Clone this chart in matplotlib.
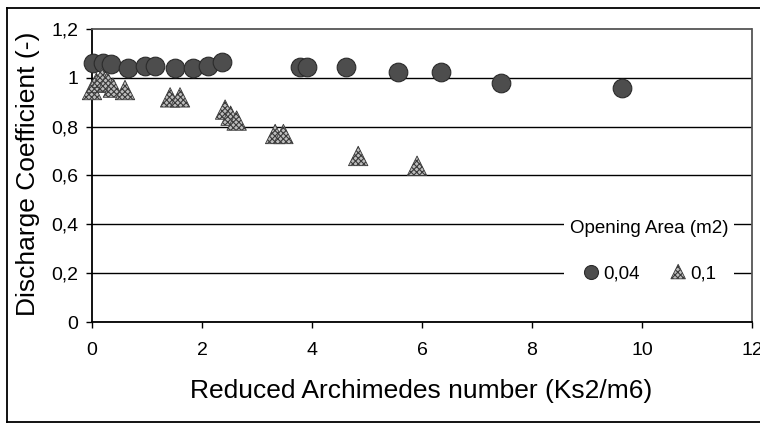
import matplotlib
matplotlib.use("Agg")
import matplotlib.pyplot as plt
from matplotlib.lines import Line2D

plt.rcParams['font.family'] = ['Liberation Sans', 'DejaVu Sans']
plt.rcParams['hatch.linewidth'] = 0.8

# ---- data ----
ar_004 = [0.02, 0.2, 0.35, 0.65, 0.96, 1.15, 1.5, 1.84, 2.11, 2.36, 3.78, 3.9, 4.62, 5.56, 6.35, 7.44, 9.64]
cd_004 = [1.06, 1.06, 1.055, 1.04, 1.05, 1.05, 1.04, 1.04, 1.05, 1.065, 1.045, 1.045, 1.045, 1.025, 1.025, 0.98, 0.96]

ar_01 = [0.0, 0.08, 0.18, 0.28, 0.38, 0.6, 1.42, 1.6, 2.42, 2.52, 2.63, 3.33, 3.48, 4.84, 5.91]
cd_01 = [0.95, 0.98, 1.0, 0.985, 0.96, 0.95, 0.92, 0.92, 0.87, 0.845, 0.825, 0.77, 0.77, 0.68, 0.64]

series_labels = ['0,04', '0,1']
legend_title = 'Opening Area (m2)'
x_ticks = [0, 2, 4, 6, 8, 10, 12]
x_ticklabels = ['0', '2', '4', '6', '8', '10', '12']
y_ticks = [0, 0.2, 0.4, 0.6, 0.8, 1.0, 1.2]
y_ticklabels = ['0', '0,2', '0,4', '0,6', '0,8', '1', '1,2']
x_label = 'Reduced Archimedes number (Ks2/m6)'
y_label = 'Discharge Coefficient (-)'

W, H = 760, 423
fig = plt.figure(figsize=(7.6, 4.23), dpi=100)
ax = fig.add_axes([92 / W, 1 - 322 / H, (752 - 92) / W, (322 - 29) / H])

ax.scatter(ar_004, cd_004, s=180, marker='o', facecolor='#4d4d4d',
           edgecolor='#2b2b2b', linewidths=0.8, zorder=3, clip_on=False,
           label=series_labels[0])
ax.scatter(ar_01, cd_01, s=195, marker='^', facecolor='#bdbdbd',
           edgecolor='#3a3a3a', linewidths=0.6, hatch='xxxxxx', zorder=4,
           clip_on=False, label=series_labels[1])

ax.set_xlim(0, 12)
ax.set_ylim(0, 1.2)
ax.set_xticks(x_ticks)
ax.set_xticklabels(x_ticklabels)
ax.set_yticks(y_ticks)
ax.set_yticklabels(y_ticklabels)
ax.tick_params(axis='both', direction='out', length=4.3, width=1.0,
               labelsize=14, colors='black')
ax.tick_params(axis='y', pad=5.5)
ax.tick_params(axis='x', pad=10)

ax.yaxis.grid(True, color='black', linewidth=1.0, zorder=1)
ax.set_axisbelow(True)
gl = ax.yaxis.get_gridlines()
gl[-1].set_visible(False)

for side in ['left', 'bottom']:
    ax.spines[side].set_linewidth(1.3)
    ax.spines[side].set_color('black')
for side in ['top', 'right']:
    ax.spines[side].set_linestyle((0, (1, 1)))
    ax.spines[side].set_linewidth(1.3)
    ax.spines[side].set_color('#555555')

leg = ax.legend(title=legend_title, ncol=2, loc='center',
                bbox_to_anchor=((649 - 92) / 660, (322 - 251) / 293),
                fontsize=13.5, title_fontsize=13.5, frameon=True,
                facecolor='white', edgecolor='none', framealpha=1.0,
                fancybox=False, markerscale=0.75, scatterpoints=1,
                scatteryoffsets=[0.5], handlelength=1.0, handletextpad=0.15,
                columnspacing=1.55, labelspacing=1.5, borderpad=0.3)
leg.set_zorder(5)

fig.text(421 / W, 1 - 391 / H, x_label, ha='center', va='center', fontsize=19)
fig.text(28 / W, 1 - 174 / H, y_label, ha='center', va='center',
         rotation=90, fontsize=19)

# outer chart border
border_kw = dict(color='black', linewidth=1.3, transform=fig.transFigure)
fig.add_artist(Line2D([7 / W, 1.0], [1 - 8.5 / H, 1 - 8.5 / H], **border_kw))
fig.add_artist(Line2D([7 / W, 7 / W], [1 - 8.5 / H, 1 - 421.5 / H], **border_kw))
fig.add_artist(Line2D([7 / W, 1.0], [1 - 421.5 / H, 1 - 421.5 / H], **border_kw))

fig.savefig('out.png', dpi=100)
